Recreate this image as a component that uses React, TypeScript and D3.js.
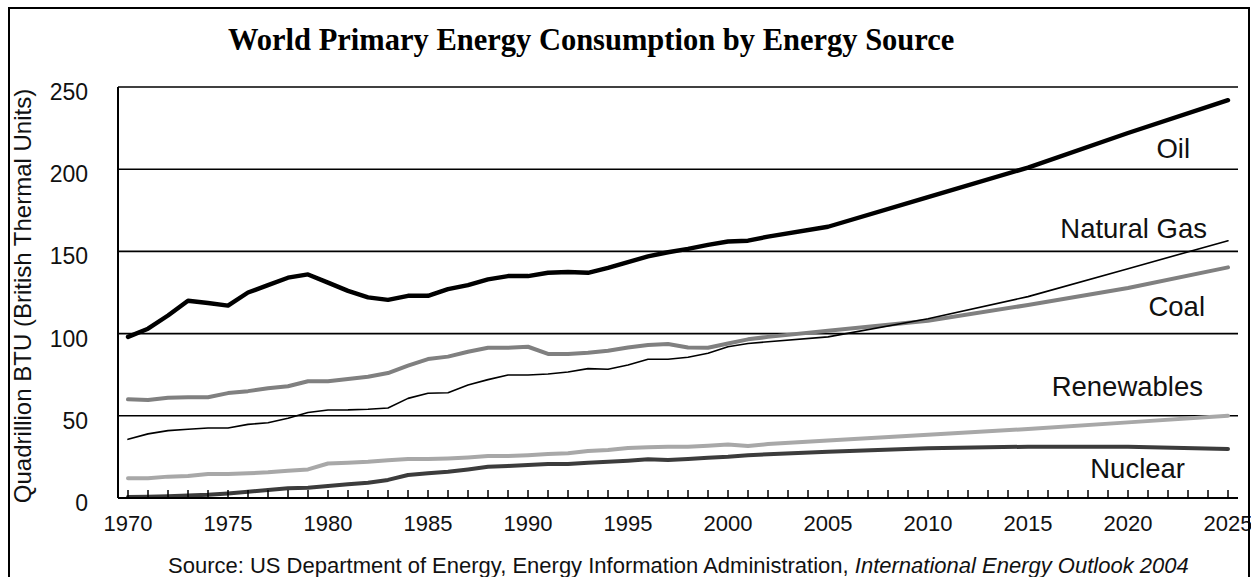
import { useEffect, useRef } from 'react'
import * as d3 from 'd3'

const years = [
  1970, 1971, 1972, 1973, 1974, 1975, 1976, 1977, 1978, 1979,
  1980, 1981, 1982, 1983, 1984, 1985, 1986, 1987, 1988, 1989,
  1990, 1991, 1992, 1993, 1994, 1995, 1996, 1997, 1998, 1999,
  2000, 2001, 2002, 2005, 2010, 2015, 2020, 2025,
]

const oil = [
  98, 103, 111, 120, 118.6, 117, 125, 129.5, 134, 136,
  131, 126, 122, 120.5, 123, 123, 127, 129.5, 133, 135,
  135, 137, 137.5, 137, 140, 143.5, 147, 149.5, 151.5, 154,
  156, 156.5, 159, 165, 183, 201, 222, 242,
]

const naturalGas = [
  35.7, 39, 41, 41.8, 42.6, 42.6, 44.8, 45.8, 48.5, 52,
  53.5, 53.6, 54, 54.7, 60.6, 63.7, 64, 68.7, 72, 74.8,
  74.8, 75.4, 76.6, 78.7, 78.3, 80.9, 84.4, 84.4, 85.6, 88,
  92, 94, 95, 98, 109, 122.5, 139.5, 156.5,
]

const coal = [
  60, 59.6, 61, 61.3, 61.3, 63.8, 65, 66.8, 68, 71,
  71, 72.4, 73.8, 76, 80.5, 84.5, 86, 89, 91.4, 91.4,
  92, 87.6, 87.6, 88.4, 89.6, 91.6, 93, 93.7, 91.6, 91.4,
  94, 96.5, 98, 101.8, 107.8, 117.4, 127.7, 140.3,
]

const renewables = [
  12, 12, 13, 13.4, 14.6, 14.6, 15, 15.6, 16.6, 17.4,
  21, 21.5, 22, 23, 23.7, 23.7, 24.1, 24.7, 25.5, 25.5,
  26, 26.7, 27.2, 28.6, 29.2, 30.4, 30.8, 31.2, 31.2, 31.8,
  32.6, 31.6, 32.8, 35, 38.5, 42, 46, 50,
]

const nuclear = [
  0.6, 0.8, 1.1, 1.5, 2, 2.8, 3.8, 4.8, 5.9, 6.3,
  7.3, 8.3, 9.3, 11, 14, 15, 16, 17.4, 19, 19.5,
  20, 20.7, 20.7, 21.5, 22, 22.7, 23.5, 23.1, 23.7, 24.5,
  25.1, 26, 26.6, 28.2, 30.2, 31.2, 31.2, 29.8,
]

const yTicks = [0, 50, 100, 150, 200, 250]
const xTickLabels = [1970, 1975, 1980, 1985, 1990, 1995, 2000, 2005, 2010, 2015, 2020, 2025]

// drawn back to front
const series = [
  { name: 'Nuclear', values: nuclear, color: '#3c3c3c', width: 4, labelX: 1185, labelY: 478 },
  { name: 'Renewables', values: renewables, color: '#a8a8a8', width: 4, labelX: 1203, labelY: 396 },
  { name: 'Coal', values: coal, color: '#808080', width: 4, labelX: 1205, labelY: 316 },
  { name: 'Natural Gas', values: naturalGas, color: '#000000', width: 1.6, labelX: 1207, labelY: 238 },
  { name: 'Oil', values: oil, color: '#000000', width: 4.4, labelX: 1190, labelY: 158 },
]

const W = 1251
const H = 577

export default function App() {
  const svgRef = useRef<SVGSVGElement>(null)

  useEffect(() => {
    if (!svgRef.current) return
    const svg = d3.select(svgRef.current)
    svg.selectAll('*').remove()

    const x = d3.scaleLinear().domain([1969.5, 2025.5]).range([118, 1238])
    const y = d3.scaleLinear().domain([0, 250]).range([498, 87])
    const font = 'Arial, "Liberation Sans", sans-serif'

    svg.append('rect')
      .attr('width', W).attr('height', H).attr('fill', '#fff')

    // title
    svg.append('text')
      .attr('x', 228).attr('y', 50)
      .style('font-family', '"Liberation Serif", "Times New Roman", serif')
      .style('font-weight', 'bold')
      .style('font-size', '30.5px')
      .text('World Primary Energy Consumption by Energy Source')

    // grid lines
    svg.append('g')
      .selectAll('line')
      .data(yTicks.filter(d => d > 0))
      .join('line')
      .attr('x1', x(1969.5)).attr('x2', x(2025.5))
      .attr('y1', d => y(d)).attr('y2', d => y(d))
      .attr('stroke', '#000')
      .attr('stroke-width', 1.6)

    // series lines
    const line = d3.line<number>()
      .x((_, i) => x(years[i]))
      .y(d => y(d))

    svg.append('g')
      .selectAll('path')
      .data(series)
      .join('path')
      .attr('d', d => line(d.values))
      .attr('fill', 'none')
      .attr('stroke', d => d.color)
      .attr('stroke-width', d => d.width)
      .attr('stroke-linejoin', 'round')
      .attr('stroke-linecap', 'round')

    // axes
    svg.append('line')
      .attr('x1', x(1969.5)).attr('x2', x(1969.5))
      .attr('y1', y(250)).attr('y2', y(0))
      .attr('stroke', '#000').attr('stroke-width', 2)

    svg.append('line')
      .attr('x1', x(1969.5)).attr('x2', x(2025.5))
      .attr('y1', y(0)).attr('y2', y(0))
      .attr('stroke', '#000').attr('stroke-width', 2)

    svg.append('g')
      .selectAll('line')
      .data(d3.range(1970, 2026))
      .join('line')
      .attr('x1', d => x(d)).attr('x2', d => x(d))
      .attr('y1', y(0)).attr('y2', y(0) - 8)
      .attr('stroke', '#000').attr('stroke-width', 1.5)

    svg.append('g')
      .selectAll('text')
      .data(xTickLabels)
      .join('text')
      .attr('x', d => x(d))
      .attr('y', 531)
      .attr('text-anchor', 'middle')
      .style('font-family', font)
      .style('font-size', '22px')
      .style('fill', '#111')
      .text(d => d)

    svg.append('g')
      .selectAll('text')
      .data(yTicks)
      .join('text')
      .attr('x', 88)
      .attr('y', d => y(d) + 5)
      .attr('dy', '0.35em')
      .attr('text-anchor', 'end')
      .style('font-family', font)
      .style('font-size', '23px')
      .style('fill', '#111')
      .text(d => d)

    // y axis title
    svg.append('text')
      .attr('transform', 'translate(31,296) rotate(-90)')
      .attr('text-anchor', 'middle')
      .style('font-family', font)
      .style('font-size', '24px')
      .style('fill', '#111')
      .text('Quadrillion BTU (British Thermal Units)')

    // series labels
    svg.append('g')
      .selectAll('text')
      .data(series)
      .join('text')
      .attr('x', d => d.labelX)
      .attr('y', d => d.labelY)
      .attr('text-anchor', 'end')
      .style('font-family', font)
      .style('font-size', '27.5px')
      .style('fill', '#111')
      .text(d => d.name)

    // source
    const src = svg.append('text')
      .attr('x', 168).attr('y', 573)
      .style('font-family', font)
      .style('font-size', '22px')
      .style('fill', '#111')
    src.append('tspan')
      .text('Source: US Department of Energy, Energy Information Administration, ')
    src.append('tspan')
      .style('font-style', 'italic')
      .text('International Energy Outlook 2004')

    // outer frame, on top like the original
    svg.append('rect')
      .attr('x', 9).attr('y', 8)
      .attr('width', 1240).attr('height', 600)
      .attr('fill', 'none')
      .attr('stroke', '#000')
      .attr('stroke-width', 2)
  }, [])

  return (
    <svg
      ref={svgRef}
      width={W}
      height={H}
      style={{ position: 'absolute', left: 0, top: 0 }}
    />
  )
}
